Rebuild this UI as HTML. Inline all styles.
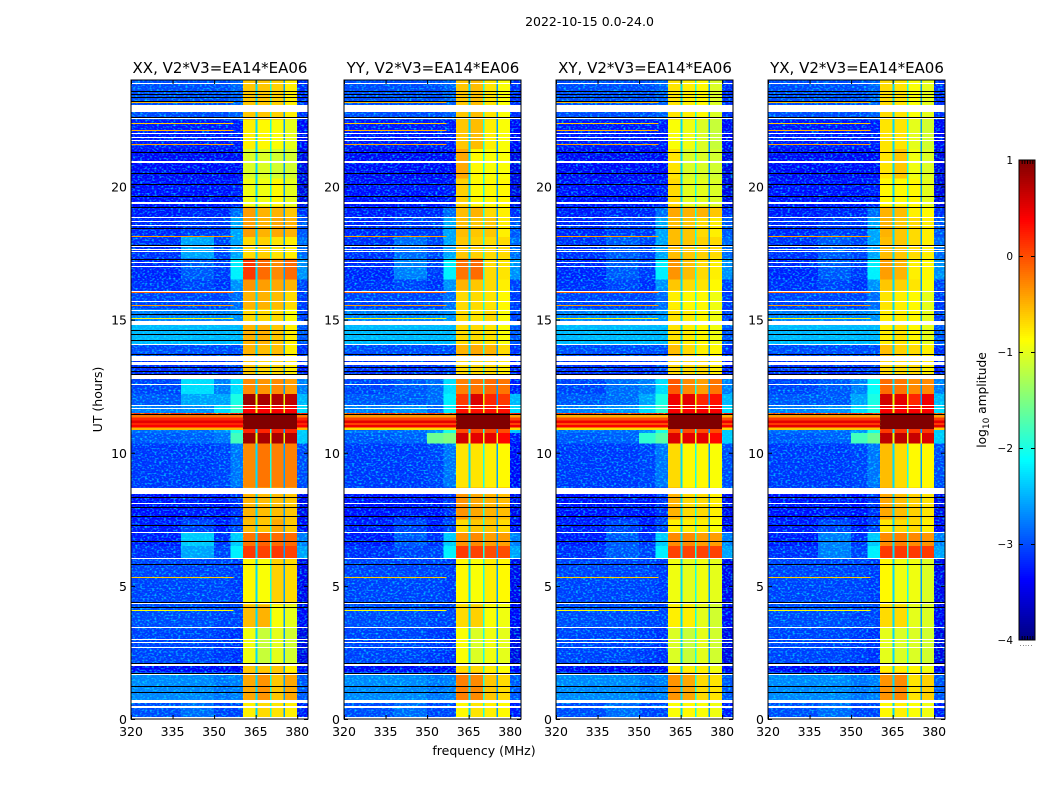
<!DOCTYPE html>
<html>
<head>
<meta charset="utf-8">
<title>2022-10-15 0.0-24.0</title>
<style>
html,body{margin:0;padding:0;background:#fff;}
svg{display:block;}
text{font-family:"DejaVu Sans","Liberation Sans",sans-serif;fill:#000;}
</style>
</head>
<body>
<svg id="fig" width="1050" height="800" viewBox="0 0 1050 800" xmlns="http://www.w3.org/2000/svg">
<defs>
<filter id="speckle" x="0" y="0" width="100%" height="100%" color-interpolation-filters="sRGB">
<feTurbulence type="fractalNoise" baseFrequency="0.42 0.6" numOctaves="1" seed="7"/>
<feColorMatrix type="matrix" values="0 0 0 0 0  2.4 0 0 0 -1.15  0 0 0 0 0  0 0 0 0 1"/>
</filter>
</defs>
<text x="589.5" y="26" text-anchor="middle" font-size="12.5">2022-10-15 0.0-24.0</text>
<text x="484" y="755" text-anchor="middle" font-size="12.5">frequency (MHz)</text>
<text transform="translate(102,399.5) rotate(-90)" text-anchor="middle" font-size="12.5">UT (hours)</text>
<text transform="translate(986,400) rotate(-90)" text-anchor="middle" font-size="12.2">log<tspan dy="3" font-size="9">10</tspan><tspan dy="-3"> amplitude</tspan></text>
<g id="panels"></g>
<g id="cbar"></g>
</svg>
<script>
// ---- data (hours, MHz, log10 amplitude) ----
const panelTitles = ["XX, V2*V3=EA14*EA06","YY, V2*V3=EA14*EA06","XY, V2*V3=EA14*EA06","YX, V2*V3=EA14*EA06"];
const xTickLabels = [320,335,350,365,380];
const yTickLabels = [0,5,10,15,20];
const cbarTickLabels = [-4,-3,-2,-1,0,1];

const segmentEdges = [0,0.6,1.75,2.1,3.45,4.3,6.05,6.5,7,7.5,8.45,8.7,10.35,10.75,10.9,11.5,11.8,12.2,12.8,13.6,14.05,14.8,15.4,16.1,16.5,17.3,18.1,18.85,19.25,20.3,21.4,22.5,24];

// per segment: 320-338, 338-350, 350-356, 356-360.5, 380-384
const backgroundRows = [
[-3.05,-2.9,-3.1,-3.1,-3.3],[-2.75,-2.75,-2.85,-2.8,-3.0],[-3.4,-3.4,-3.4,-3.4,-3.4],[-3.1,-3.1,-3.15,-3.2,-3.5],
[-3.05,-3.05,-3.1,-3.1,-3.4],[-3.1,-3.1,-3.1,-3.15,-3.45],[-3.2,-2.6,-3.1,-2.2,-2.6],[-3.3,-2.4,-3.2,-2.4,-2.8],
[-3.3,-3.1,-3.3,-3.1,-3.4],[-3.35,-3.3,-3.35,-3.2,-3.45],[-3.1,-3.1,-3.1,-3.1,-3.1],[-3.15,-3.15,-3.1,-2.85,-3.05],
[-3.0,-2.95,-2.85,-1.8,-2.4],[-2.9,-2.9,-2.7,-2.0,-2.4],[0.2,0.2,0.2,0.3,0.3],[-2.8,-2.7,-2.3,-1.9,-2.3],
[-3.0,-2.6,-2.6,-2.0,-2.5],[-3.1,-2.3,-2.8,-2.3,-2.8],[-3.2,-3.2,-3.2,-3.1,-3.3],[-3.05,-3.05,-3.05,-3.05,-3.2],
[-2.5,-2.5,-2.5,-2.5,-3.0],[-2.8,-2.8,-2.8,-2.7,-3.1],[-3.1,-3.1,-3.1,-2.9,-3.15],[-3.2,-3.1,-3.2,-2.7,-3.1],
[-3.25,-3.0,-3.15,-2.2,-2.7],[-3.2,-2.6,-3.1,-2.6,-2.9],[-3.25,-3.15,-3.15,-2.6,-3.0],[-3.3,-3.25,-3.25,-2.9,-3.2],
[-3.35,-3.35,-3.35,-3.3,-3.5],[-3.4,-3.4,-3.4,-3.4,-3.5],[-3.3,-3.3,-3.3,-3.3,-3.4],[-3.05,-3.05,-3.05,-2.95,-3.2]
];

// per-panel departures from the shared background: [segment, column, level]
const backgroundTweaksXX = [];
const backgroundTweaksYY = [[6,1,-3.1],[7,1,-3.0],[16,1,-3.0],[17,1,-3.0],[12,2,-1.6],[12,3,-1.5],[15,2,-2.9],[16,2,-2.9],[17,2,-2.9],[15,3,-2.2],[16,3,-2.2],[17,3,-2.3],[24,1,-2.8],[25,1,-2.9],[11,4,-3.4],[12,4,-3.3],[17,4,-3.3]];
const backgroundTweaksXY = [[6,1,-3.0],[7,1,-3.0],[16,1,-2.9],[17,1,-2.9],[12,2,-1.9],[12,3,-1.7],[24,1,-3.0],[25,1,-3.0]];
const backgroundTweaksYX = [[6,1,-2.8],[7,1,-2.8],[16,1,-3.0],[17,1,-3.0],[12,2,-1.8],[12,3,-1.6],[15,3,-2.0],[16,3,-2.0],[17,3,-2.1],[24,1,-3.0],[25,1,-3.0]];
const panelBackgroundTweaks = [backgroundTweaksXX,backgroundTweaksYY,backgroundTweaksXY,backgroundTweaksYX];

// per segment: the four sub-bands between 360.5 and 380 MHz
const bandRowsXX = [
[-0.8,-0.7,-0.75,-0.8],[-0.45,-0.35,-0.6,-0.45],[-0.6,-0.6,-0.6,-0.8],[-0.95,-1.15,-1.0,-1.1],
[-0.55,-0.5,-0.9,-1.0],[-0.85,-0.9,-0.65,-0.7],[0.1,0.05,0.1,0.05],[-0.2,-0.1,-0.15,-0.15],
[-0.55,-0.6,-0.45,-0.6],[-0.5,-0.55,-0.55,-0.6],[-0.5,-0.5,-0.5,-0.5],[-0.3,-0.2,-0.25,-0.25],
[0.85,0.8,0.8,0.75],[0.2,0.2,0.2,0.2],[1,1,1,1],[0.4,0.4,0.4,0.4],
[0.85,0.8,0.75,0.7],[-0.3,-0.35,-0.3,-0.4],[-0.6,-0.7,-0.7,-0.8],[-0.5,-0.55,-0.55,-0.8],
[-0.5,-0.5,-0.6,-0.8],[-0.7,-0.7,-0.7,-0.9],[-0.5,-0.5,-0.55,-0.7],[-0.35,-0.4,-0.45,-0.5],
[0.1,-0.15,-0.3,-0.15],[-0.7,-0.65,-0.75,-0.8],[-0.4,-0.5,-0.45,-0.5],[-0.4,-0.5,-0.5,-0.6],
[-0.95,-0.95,-0.85,-1.0],[-1.05,-1.05,-1.1,-1.1],[-0.8,-0.85,-0.9,-1.0],[-0.6,-0.6,-0.65,-0.8]
];
const bandRowsYY = [
[-0.85,-0.75,-0.8,-0.85],[-0.25,-0.3,-0.6,-0.7],[-0.7,-0.7,-0.8,-0.9],[-0.9,-1.05,-0.95,-1.0],
[-0.7,-0.65,-0.9,-0.95],[-0.85,-0.9,-0.8,-0.85],[0.1,0.05,0.0,0.0],[-0.35,-0.3,-0.4,-0.4],
[-0.7,-0.6,-0.6,-0.7],[-0.35,-0.45,-0.5,-0.55],[-0.5,-0.5,-0.5,-0.5],[-0.75,-0.75,-0.8,-0.85],
[0.6,0.5,0.5,0.35],[0.0,0.0,0.0,0.0],[1,1,1,1],[0.3,0.3,0.3,0.3],
[0.1,0.55,0.2,0.1],[-0.25,-0.2,-0.15,-0.2],[-0.7,-0.7,-0.7,-0.8],[-0.5,-0.45,-0.5,-0.7],
[-0.7,-0.7,-0.75,-0.9],[-0.7,-0.75,-0.7,-0.9],[-0.7,-0.7,-0.75,-0.85],[-0.5,-0.6,-0.7,-0.8],
[-0.2,-0.15,-0.7,-0.75],[-0.6,-0.65,-0.7,-0.7],[-0.55,-0.6,-0.6,-0.8],[-0.55,-0.5,-0.7,-0.8],
[-0.65,-0.85,-0.85,-0.85],[-0.45,-0.85,-0.9,-0.9],[-0.6,-0.55,-0.8,-0.9],[-0.6,-0.55,-0.75,-0.9]
];
const bandRowsXY = [
[-0.9,-0.85,-0.9,-0.95],[-0.35,-0.45,-0.7,-0.75],[-0.8,-0.8,-0.8,-0.95],[-1.05,-1.15,-1.0,-1.1],
[-0.8,-0.8,-1.0,-1.1],[-0.95,-1.0,-0.95,-1.0],[0.05,0.05,0.05,0.05],[-0.3,-0.3,-0.4,-0.4],
[-0.8,-0.8,-0.8,-0.9],[-0.5,-0.7,-0.7,-0.8],[-0.5,-0.7,-0.7,-0.8],[-0.7,-0.85,-0.85,-0.9],
[0.55,0.5,0.5,0.35],[0.0,0.0,0.0,0.0],[1,1,1,1],[0.4,0.4,0.4,0.4],
[0.45,0.5,0.2,0.3],[-0.05,-0.3,-0.4,-0.2],[-0.7,-0.7,-0.7,-0.8],[-0.55,-0.7,-0.8,-0.85],
[-0.75,-0.8,-0.85,-0.95],[-0.75,-0.8,-0.85,-0.95],[-0.8,-0.85,-0.85,-0.95],[-0.6,-0.7,-0.75,-0.85],
[-0.35,-0.55,-0.7,-0.8],[-0.55,-0.6,-0.65,-0.7],[-0.55,-0.6,-0.7,-0.8],[-0.45,-0.5,-0.5,-0.6],
[-0.7,-1.0,-1.0,-1.05],[-0.75,-1.05,-1.05,-1.1],[-0.9,-0.95,-1.05,-1.15],[-0.75,-0.8,-0.85,-1.05]
];
const bandRowsYX = [
[-0.85,-0.8,-0.9,-0.95],[-0.35,-0.3,-0.75,-0.65],[-0.8,-0.8,-0.85,-0.95],[-1.0,-1.05,-1.05,-1.1],
[-0.7,-0.7,-1.0,-1.05],[-0.85,-0.95,-0.95,-1.05],[0.1,0.1,0.1,0.1],[-0.3,-0.25,-0.3,-0.35],
[-0.75,-0.7,-0.7,-0.8],[-0.45,-0.55,-0.65,-0.75],[-0.45,-0.55,-0.65,-0.75],[-0.55,-0.7,-0.85,-0.85],
[0.7,0.7,0.65,0.55],[0.1,0.1,0.1,0.1],[1,1,1,1],[0.4,0.4,0.4,0.4],
[0.6,0.5,0.2,0.45],[-0.15,-0.2,-0.3,-0.3],[-0.7,-0.7,-0.7,-0.8],[-0.55,-0.65,-0.7,-0.8],
[-0.8,-0.75,-0.85,-1.0],[-0.8,-0.8,-0.85,-1.0],[-0.75,-0.8,-0.85,-1.0],[-0.6,-0.65,-0.75,-0.9],
[-0.4,-0.5,-0.8,-0.85],[-0.55,-0.6,-0.7,-0.8],[-0.5,-0.6,-0.7,-0.8],[-0.5,-0.55,-0.8,-0.85],
[-0.85,-0.85,-0.85,-1.0],[-0.75,-0.6,-0.95,-1.05],[-0.75,-0.75,-1.0,-1.1],[-0.7,-0.75,-0.9,-1.0]
];
const panelBandRows = [bandRowsXX,bandRowsYY,bandRowsXY,bandRowsYX];
const gapLevels = [-2.3,-2.0,-2.6];
const hotGapLevel = -1.0;

// bright interference rows across the whole span
const hotEdges = [10.85,10.95,11.05,11.12,11.22,11.32,11.42];
const hotRowsXX = [-0.5,0.4,0.2,0.5,0.2,-0.2];
const hotRowsYY = [-0.7,0.45,0.05,0.5,0.05,-0.4];
const hotRowsXY = [-0.7,0.4,0.0,0.45,0.0,-0.5];
const hotRowsYX = [-0.6,0.5,0.1,0.5,0.1,-0.4];
const panelHotRows = [hotRowsXX,hotRowsYY,hotRowsXY,hotRowsYX];

const rfiHours = [4.09,5.35,15.06,15.54,16.05,18.13,19.22,21.58,22.11,22.37,23.16];
const rfiLevels = [-0.9,-0.6,-0.9,-0.4,-0.1,-0.4,-0.7,-0.4,-0.5,-0.6,-0.5];

const flaggedBands = [[0,0.09],[0.42,0.47],[0.61,0.71],[1.65,1.72],[1.99,2.07],[2.68,2.72],[2.87,2.91],[2.97,3.01],[3.41,3.45],[4.33,4.37],[6.0,6.06],[6.97,7.01],[8.08,8.12],[8.45,8.67],[11.63,11.67],[11.74,11.78],[12.55,12.59],[12.77,12.92],[13.3,13.39],[13.45,13.63],[14.03,14.07],[14.8,14.96],[15.34,15.38],[15.65,15.69],[16.03,16.07],[16.97,17.01],[17.12,17.16],[17.53,17.57],[17.63,17.67],[17.72,17.76],[18.51,18.55],[18.65,18.69],[18.8,18.84],[19.36,19.4],[20.9,20.94],[21.7,21.74],[21.83,21.87],[21.98,22.02],[22.55,22.59],[22.81,23.06],[23.86,23.9]];
const blackHours = [1.0,1.25,1.74,2.09,4.21,4.41,5.81,6.67,7.3,7.64,7.95,8.35,11.44,12.95,13.08,13.21,13.71,14.23,14.46,14.61,15.2,17.29,17.8,18.44,19.23,19.65,20.08,20.49,21.31,22.62,23.21,23.36,23.47,23.6];

// ---- scales and drawing ----
const NS = "http://www.w3.org/2000/svg";
const panelLefts = [131,344,556,768];
const plotTop = 80, plotBottom = 719, plotWidth = 177;
const pxPerMHz = 2.77;
function xScale(panel, mhz){ return panelLefts[panel] + (mhz - 320) * pxPerMHz; }
function yScale(hour){ return plotBottom - hour * (plotBottom - plotTop) / 24; }
function jet(v){
  const t = Math.min(1, Math.max(0, (v + 4) / 5));
  const ch = (a) => Math.round(255 * Math.min(1, Math.max(0, 1.5 - Math.abs(4 * t - a))));
  return "rgb(" + ch(3) + "," + ch(2) + "," + ch(1) + ")";
}
function rect(parent, x, y, w, h, fill){
  const r = document.createElementNS(NS, "rect");
  r.setAttribute("x", x); r.setAttribute("y", y);
  r.setAttribute("width", w); r.setAttribute("height", h);
  r.setAttribute("fill", fill);
  r.setAttribute("shape-rendering", "crispEdges");
  parent.appendChild(r);
  return r;
}
function line(parent, x1, y1, x2, y2){
  const l = document.createElementNS(NS, "line");
  l.setAttribute("x1", x1); l.setAttribute("y1", y1);
  l.setAttribute("x2", x2); l.setAttribute("y2", y2);
  l.setAttribute("stroke", "#000");
  l.setAttribute("stroke-width", "1");
  parent.appendChild(l);
  
  
  return l;
}
function label(parent, x, y, str, anchor, size){
  const t = document.createElementNS(NS, "text");
  t.setAttribute("x", x); t.setAttribute("y", y);
  t.setAttribute("text-anchor", anchor);
  t.setAttribute("font-size", size);
  t.textContent = str;
  parent.appendChild(t);
  return t;
}
const bgColumnEdges = [320,338,350,356,360.5];
const bandColumnEdges = [[360.5,365],[365.6,370.2],[370.8,375],[375.6,380]];
const gapColumnEdges = [[365,365.6],[370.2,370.8],[375,375.6]];
const panelsRoot = document.getElementById("panels");

panelTitles.forEach(function(title, p){
  const g = document.createElementNS(NS, "g");
  
  
  panelsRoot.appendChild(g);
  const left = panelLefts[p], right = left + plotWidth;
  const bands = panelBandRows[p];
  const rows = backgroundRows.map(function(r){ return r.slice(); });
  panelBackgroundTweaks[p].forEach(function(tw){ rows[tw[0]][tw[1]] = tw[2]; });
  for (let s = 0; s < rows.length; s++){
    const y0 = yScale(segmentEdges[s+1]), y1 = yScale(segmentEdges[s]);
    const h = y1 - y0;
    for (let c = 0; c < 4; c++){
      const xa = xScale(p, bgColumnEdges[c]), xb = xScale(p, bgColumnEdges[c+1]);
      const r = rect(g, xa, y0, xb - xa, h, jet(rows[s][c]));
      
      
    }
    const xr = xScale(p, 380);
    const rr = rect(g, xr, y0, right - xr, h, jet(rows[s][4]));
    
    
    for (let b = 0; b < 4; b++){
      const xa = xScale(p, bandColumnEdges[b][0]), xb = xScale(p, bandColumnEdges[b][1]);
      const r = rect(g, xa, y0, xb - xa, h, jet(bands[s][b]));
      
      
    }
    for (let k = 0; k < 3; k++){
      const xa = xScale(p, gapColumnEdges[k][0]), xb = xScale(p, gapColumnEdges[k][1]);
      const level = bands[s][k] >= 0.9 ? bands[s][k] : (bands[s][k] >= 0.3 ? hotGapLevel : gapLevels[k]);
      const r = rect(g, xa, y0, xb - xa, h, jet(level));
      
      
    }
  }
  // speckle texture over the low-level background only
  const sa = rect(g, left, plotTop, xScale(p, 360.5) - left, plotBottom - plotTop, "#000");
  sa.setAttribute("filter", "url(#speckle)");
  sa.setAttribute("style", "mix-blend-mode:screen");
  
  
  const xr380 = xScale(p, 380);
  const sb = rect(g, xr380, plotTop, right - xr380, plotBottom - plotTop, "#000");
  sb.setAttribute("filter", "url(#speckle)");
  sb.setAttribute("style", "mix-blend-mode:screen");
  
  
  // hot rows outside the saturated band
  panelHotRows[p].forEach(function(v, i){
    const y0 = yScale(hotEdges[i+1]), h = yScale(hotEdges[i]) - y0;
    const a = rect(g, left, y0, xScale(p, 360.5) - left, h, jet(v));
    
    
    const xr = xScale(p, 380);
    const c = rect(g, xr, y0, right - xr, h, jet(v));
    
    
  });
  // narrow interference rows
  rfiHours.forEach(function(t, i){
    const r = rect(g, left, Math.round(yScale(t)), xScale(p, 357) - left, 1, jet(rfiLevels[i]));
    
    
  });
  // flagged rows
  flaggedBands.forEach(function(b){
    const y0 = Math.round(yScale(b[1]));
    const h = Math.max(1, Math.round(yScale(b[0])) - y0);
    const r = rect(g, left, y0, plotWidth, h, "#fff");
    
    
  });
  blackHours.forEach(function(t){
    const r = rect(g, left, Math.round(yScale(t)), plotWidth, 1, "#000");
    
    
  });
  // frame
  const f = document.createElementNS(NS, "rect");
  f.setAttribute("x", left); f.setAttribute("y", plotTop);
  f.setAttribute("width", plotWidth); f.setAttribute("height", plotBottom - plotTop);
  f.setAttribute("fill", "none"); f.setAttribute("stroke", "#000"); f.setAttribute("stroke-width", "1");
  
  
  g.appendChild(f);
  // ticks and labels
  xTickLabels.forEach(function(v){
    const x = xScale(p, v) + 0.5;
    line(g, x, plotBottom, x, plotBottom - 4);
    line(g, x, plotTop, x, plotTop + 4);
    const t = label(g, x - 0.5, 736, String(v), "middle", 12.5);
    
    
  });
  yTickLabels.forEach(function(v){
    const y = yScale(v) + 0.5;
    line(g, left, y, left + 4, y);
    line(g, right, y, right - 4, y);
    const t = label(g, left - 4, y + 4.5, String(v), "end", 12.5);
    
    
  });
  const tt = label(g, left + plotWidth / 2 + 0.5, 73, title, "middle", 15);
  
  
});

// ---- colour bar ----
const cbarRoot = document.getElementById("cbar");
const cbLeft = 1019, cbWidth = 16, cbTop = 160, cbBottom = 640;
function cbarY(v){ return cbBottom - (v + 4) * (cbBottom - cbTop) / 5; }
for (let y = cbTop; y < cbBottom; y += 2){
  const v = -4 + (cbBottom - y - 1) * 5 / (cbBottom - cbTop);
  const r = rect(cbarRoot, cbLeft, y, cbWidth, 2, jet(v));
  
  
}
const cbFrame = document.createElementNS(NS, "rect");
cbFrame.setAttribute("x", cbLeft); cbFrame.setAttribute("y", cbTop);
cbFrame.setAttribute("width", cbWidth); cbFrame.setAttribute("height", cbBottom - cbTop);
cbFrame.setAttribute("fill", "none"); cbFrame.setAttribute("stroke", "#000");


cbarRoot.appendChild(cbFrame);
cbarTickLabels.forEach(function(v){
  const y = cbarY(v) + 0.5;
  if (v > -4 && v < 1){
    line(cbarRoot, cbLeft, y, cbLeft + 4, y);
    line(cbarRoot, cbLeft + cbWidth, y, cbLeft + cbWidth - 4, y);
  }
  const t = label(cbarRoot, 1013, y + 3.5, (v < 0 ? "\u2212" + (-v) : String(v)), "end", 10.5);
  
  
});
for (let i = 1; i <= 5; i++){
  const x = cbLeft + i * cbWidth / 6 + 0.5;
  line(cbarRoot, x, cbTop, x, cbTop + 4);
  line(cbarRoot, x, cbBottom, x, cbBottom - 4);
  const d = rect(cbarRoot, x - 2, 645, 1, 1, "#888");
  
  
}
</script>
</body>
</html>
